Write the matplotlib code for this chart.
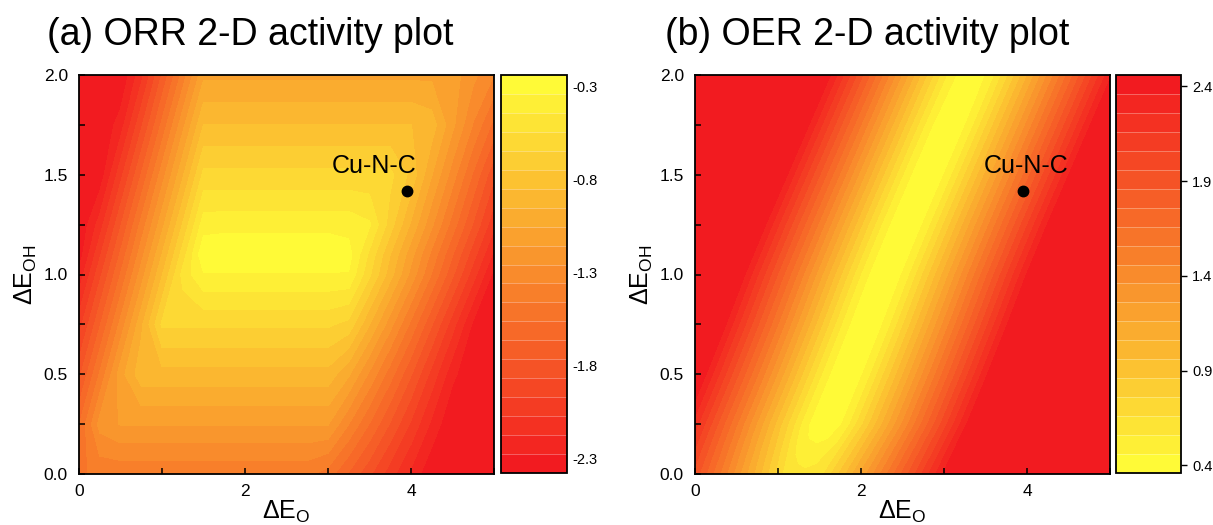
import numpy as np
import matplotlib
matplotlib.use("Agg")
import matplotlib.pyplot as plt
import matplotlib.tri as mtri
from matplotlib.colors import LinearSegmentedColormap

plt.rcParams["font.family"] = ["Liberation Sans", "DejaVu Sans"]
plt.rcParams["mathtext.default"] = "regular"
plt.rcParams["axes.unicode_minus"] = False

# (a) ORR activity, read on a grid: columns follow orr_e_o, rows follow orr_e_oh
orr_e_o = [0.0, 0.25, 0.5, 0.75, 1.0, 1.25, 1.5, 1.75, 2.0, 2.25, 2.5,
           2.75, 3.0, 3.25, 3.5, 3.75, 4.0, 4.25, 4.5, 4.75, 5.0]
orr_e_oh = [0.0, 0.25, 0.5, 0.75, 1.0, 1.1, 1.25, 1.5, 1.75, 2.0]
orr_activity = [
    [-1.48, -1.44, -1.44, -1.44, -1.44, -1.44, -1.44, -1.44, -1.44, -1.44, -1.44, -1.44, -1.51, -1.68, -1.85, -2.03, -2.20, -2.37, -2.55, -2.60, -2.60],
    [-1.57, -1.22, -1.15, -1.15, -1.15, -1.15, -1.15, -1.15, -1.15, -1.15, -1.15, -1.15, -1.15, -1.36, -1.57, -1.78, -1.99, -2.20, -2.41, -2.60, -2.60],
    [-1.80, -1.45, -1.10, -0.89, -0.89, -0.89, -0.89, -0.89, -0.89, -0.89, -0.89, -0.89, -0.89, -1.04, -1.28, -1.52, -1.76, -2.01, -2.25, -2.49, -2.60],
    [-2.02, -1.68, -1.33, -0.98, -0.63, -0.63, -0.63, -0.63, -0.63, -0.63, -0.63, -0.63, -0.63, -0.68, -0.95, -1.22, -1.49, -1.76, -2.03, -2.30, -2.57],
    [-2.25, -1.90, -1.56, -1.21, -0.86, -0.51, -0.35, -0.35, -0.35, -0.35, -0.35, -0.35, -0.35, -0.35, -0.63, -0.91, -1.19, -1.47, -1.75, -2.03, -2.31],
    [-2.34, -1.99, -1.65, -1.30, -0.95, -0.60, -0.26, -0.25, -0.25, -0.25, -0.25, -0.25, -0.25, -0.30, -0.57, -0.85, -1.12, -1.39, -1.66, -1.93, -2.20],
    [-2.48, -2.13, -1.78, -1.43, -1.09, -0.74, -0.39, -0.38, -0.38, -0.38, -0.38, -0.38, -0.38, -0.38, -0.43, -0.70, -0.97, -1.24, -1.51, -1.78, -2.05],
    [-2.60, -2.35, -2.01, -1.66, -1.31, -0.97, -0.62, -0.62, -0.62, -0.62, -0.62, -0.62, -0.62, -0.62, -0.62, -0.62, -0.78, -1.05, -1.31, -1.58, -1.85],
    [-2.60, -2.58, -2.23, -1.89, -1.54, -1.19, -0.85, -0.85, -0.85, -0.85, -0.85, -0.85, -0.85, -0.85, -0.85, -0.85, -0.85, -0.90, -1.13, -1.37, -1.60],
    [-2.60, -2.60, -2.46, -2.11, -1.76, -1.42, -1.08, -1.08, -1.08, -1.08, -1.08, -1.08, -1.08, -1.08, -1.08, -1.08, -1.08, -1.08, -1.11, -1.23, -1.36],
]

# (b) OER overpotential, read across the yellow ridge:
# rows follow oer_e_oh, columns are the ΔE_O offset from that row's ridge
oer_e_oh = [0.0, 0.25, 0.5, 0.75, 1.0, 1.25, 1.5, 1.75, 2.0]
oer_ridge_e_o = [1.30, 1.57, 1.82, 2.06, 2.29, 2.54, 2.80, 3.06, 3.32]
oer_offset = [-3.6, -2.0, -1.75, -1.5, -1.25, -1.0, -0.75, -0.5, -0.25, -0.12, 0.0,
              0.12, 0.25, 0.5, 0.75, 1.0, 1.25, 1.5, 1.75, 2.0, 3.9]
oer_overpotential = [
    [2.60, 2.60, 2.46, 2.16, 1.86, 1.56, 1.25, 0.95, 0.66, 0.60, 0.58, 0.60, 0.66, 0.94, 1.24, 1.54, 1.84, 2.14, 2.44, 2.60, 2.60],
    [2.60, 2.60, 2.44, 2.12, 1.80, 1.48, 1.15, 0.82, 0.50, 0.40, 0.38, 0.40, 0.50, 0.82, 1.14, 1.46, 1.78, 2.10, 2.42, 2.60, 2.60],
    [2.60, 2.60, 2.44, 2.12, 1.80, 1.48, 1.15, 0.82, 0.50, 0.40, 0.38, 0.40, 0.50, 0.82, 1.14, 1.46, 1.78, 2.10, 2.42, 2.60, 2.60],
    [2.60, 2.60, 2.44, 2.12, 1.80, 1.48, 1.15, 0.82, 0.50, 0.40, 0.38, 0.40, 0.50, 0.82, 1.14, 1.46, 1.78, 2.10, 2.42, 2.60, 2.60],
    [2.60, 2.60, 2.44, 2.12, 1.80, 1.48, 1.15, 0.82, 0.50, 0.40, 0.38, 0.40, 0.50, 0.82, 1.14, 1.46, 1.78, 2.10, 2.42, 2.60, 2.60],
    [2.60, 2.60, 2.44, 2.12, 1.80, 1.48, 1.15, 0.82, 0.50, 0.40, 0.38, 0.40, 0.50, 0.82, 1.14, 1.46, 1.78, 2.10, 2.42, 2.60, 2.60],
    [2.60, 2.60, 2.44, 2.12, 1.80, 1.48, 1.15, 0.82, 0.50, 0.40, 0.38, 0.40, 0.50, 0.82, 1.14, 1.46, 1.78, 2.10, 2.42, 2.60, 2.60],
    [2.60, 2.60, 2.44, 2.12, 1.80, 1.48, 1.15, 0.82, 0.50, 0.40, 0.38, 0.40, 0.50, 0.82, 1.14, 1.46, 1.78, 2.10, 2.42, 2.60, 2.60],
    [2.60, 2.60, 2.44, 2.12, 1.80, 1.48, 1.15, 0.82, 0.51, 0.42, 0.40, 0.42, 0.51, 0.82, 1.14, 1.46, 1.78, 2.10, 2.42, 2.60, 2.60],
]

cu_point = (3.95, 1.42)
cu_name = "Cu-N-C"

orr_range = (-2.38, -0.24)
orr_ticks = [-2.3, -1.8, -1.3, -0.8, -0.3]
oer_range = (0.36, 2.46)
oer_ticks = [0.4, 0.9, 1.4, 1.9, 2.4]

W, H = 1213, 525
fig = plt.figure(figsize=(W / 100, H / 100), dpi=100)


def box(x0, x1, top, bottom):
    return [x0 / W, 1 - bottom / H, (x1 - x0) / W, (bottom - top) / H]


def clipped(z, levels):
    # values past the colour scale take the end colours
    span = levels[-1] - levels[0]
    return np.clip(np.asarray(z, float), levels[0] + 1e-6 * span, levels[-1] - 1e-6 * span)


def sheared_triangulation(rows_y, ridge_x, offsets):
    # nodes sit on lines parallel to the ridge, quads split into two triangles
    xs, ys = [], []
    for y, rx in zip(rows_y, ridge_x):
        for d in offsets:
            xs.append(rx + d)
            ys.append(y)
    nc = len(offsets)
    tris = []
    for i in range(len(rows_y) - 1):
        for j in range(nc - 1):
            a = i * nc + j
            b, c, d = a + 1, a + nc + 1, a + nc
            tris.append([a, b, c])
            tris.append([a, c, d])
    return mtri.Triangulation(xs, ys, tris)


def style_panel(ax, cax, cf, ticks, label_x, cbar_ticklen):
    ax.plot(*cu_point, "o", color="black", ms=7.5)
    ax.text(label_x, 1.51, cu_name, fontsize=18, ha="center", va="baseline")

    ax.set_xlim(0, 5)
    ax.set_ylim(0, 2)
    ax.set_xticks([0, 2, 4])
    ax.set_xticks([1, 3, 5], minor=True)
    ax.set_yticks([0, 0.5, 1.0, 1.5, 2.0])
    ax.set_yticks([0.25, 0.75, 1.25, 1.75], minor=True)
    ax.tick_params(which="both", direction="in", labelsize=12.5, width=1.1, length=4)
    ax.tick_params(axis="y", pad=8)
    ax.tick_params(axis="x", pad=7)
    for s in ax.spines.values():
        s.set_linewidth(1.3)
    ax.set_xlabel("ΔE$_{O}$", fontsize=18, labelpad=0)
    ax.set_ylabel("ΔE$_{OH}$", fontsize=18, labelpad=3)

    cb = fig.colorbar(cf, cax=cax, ticks=ticks)
    cb.outline.set_linewidth(1.3)
    cax.tick_params(length=cbar_ticklen, width=1.0, labelsize=10.5, pad=4)
    cax.minorticks_off()
    for lv in cf.levels[1:-1]:
        cax.axhline(lv, color="white", lw=0.6, alpha=0.35)


yellow_red = LinearSegmentedColormap.from_list("yr", ["#F2161F", "#FFFF38"])
red_yellow = yellow_red.reversed()

# (a) ORR
ax1 = fig.add_axes(box(79, 494, 75, 474))
cax1 = fig.add_axes(box(501, 567, 75, 473))
lv1 = np.linspace(orr_range[0], orr_range[1], 22)
cf1 = ax1.contourf(orr_e_o, orr_e_oh, clipped(orr_activity, lv1),
                   levels=lv1, cmap=yellow_red)
style_panel(ax1, cax1, cf1, orr_ticks, 3.56, 0)

# (b) OER
ax2 = fig.add_axes(box(695, 1110, 75, 474))
cax2 = fig.add_axes(box(1116, 1181, 75, 473))
lv2 = np.linspace(oer_range[0], oer_range[1], 22)
tri = sheared_triangulation(oer_e_oh, oer_ridge_e_o, oer_offset)
cf2 = ax2.tricontourf(tri, clipped(np.ravel(oer_overpotential), lv2),
                      levels=lv2, cmap=red_yellow)
style_panel(ax2, cax2, cf2, oer_ticks, 3.99, 4)

fig.text(47 / W, 1 - 45 / H, "(a) ORR 2-D activity plot", fontsize=27, va="baseline")
fig.text(665 / W, 1 - 45 / H, "(b) OER 2-D activity plot", fontsize=27, va="baseline")

fig.savefig("out.png", dpi=100)
